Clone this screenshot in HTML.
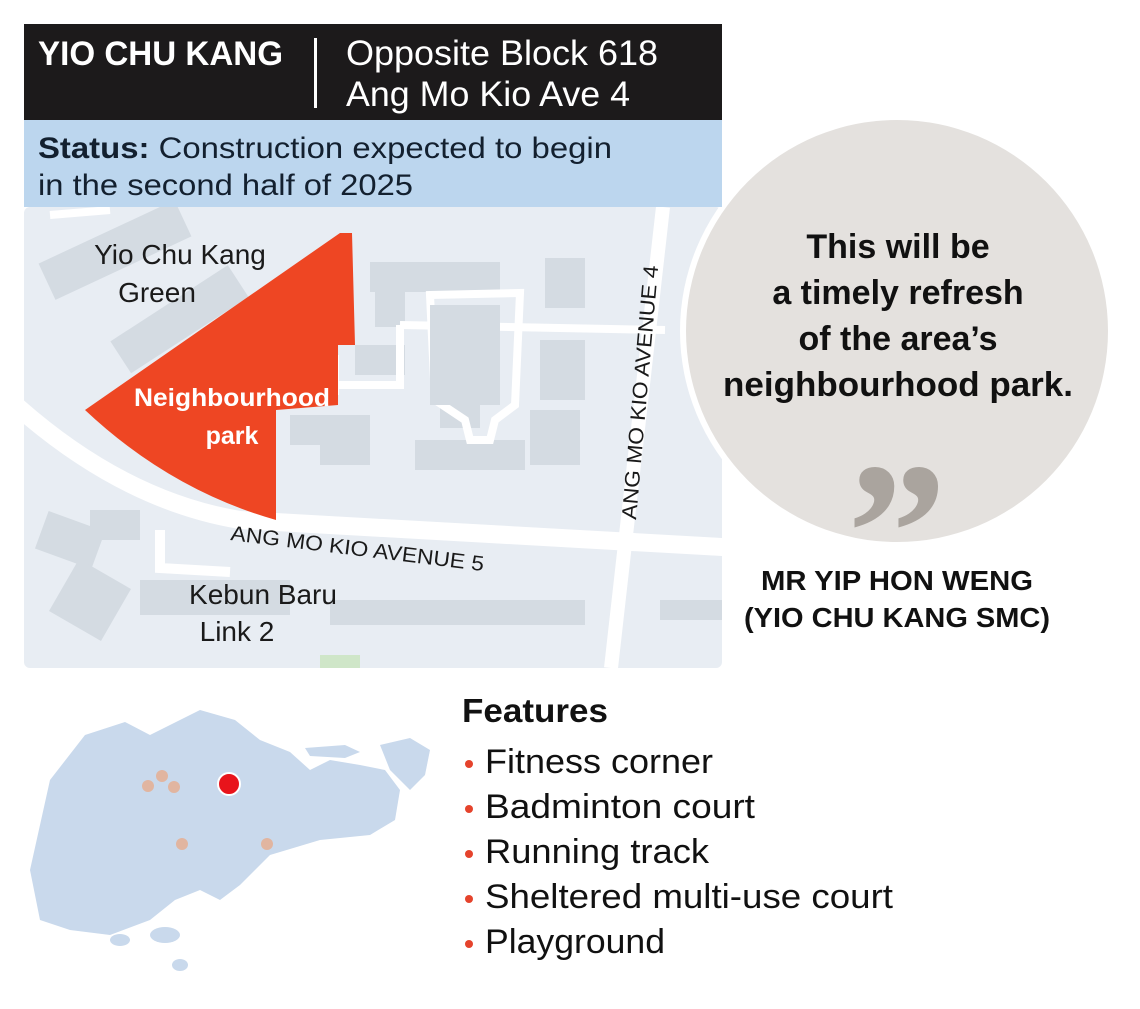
<!DOCTYPE html>
<html><head><meta charset="utf-8"><style>
html,body{margin:0;padding:0;background:#fff;width:1140px;height:1009px;overflow:hidden}
svg text{font-family:"Liberation Sans",sans-serif}
</style></head><body>
<svg width="1140" height="1009" viewBox="0 0 1140 1009" xmlns="http://www.w3.org/2000/svg">
<defs><clipPath id="mc"><rect x="24" y="207" width="698" height="461" rx="6"/></clipPath></defs>
<g clip-path="url(#mc)">
<rect x="24" y="207" width="698" height="461" fill="#e8edf3"/>
<g fill="#d4dbe2">
<rect x="40" y="230" width="150" height="40" transform="rotate(-25 115 250)"/>
<rect x="110" y="300" width="140" height="38" transform="rotate(-33 180 320)"/>
<rect x="370" y="262" width="130" height="30"/>
<rect x="375" y="262" width="30" height="65"/>
<rect x="545" y="258" width="40" height="50"/>
<rect x="440" y="328" width="40" height="100"/>
<rect x="355" y="345" width="50" height="30"/>
<rect x="540" y="340" width="45" height="60"/>
<rect x="290" y="415" width="80" height="30"/>
<rect x="320" y="445" width="50" height="20"/>
<rect x="415" y="440" width="110" height="30"/>
<rect x="530" y="410" width="50" height="55"/>
<rect x="40" y="520" width="60" height="40" transform="rotate(20 70 540)"/>
<rect x="90" y="510" width="50" height="30"/>
<rect x="60" y="570" width="60" height="60" transform="rotate(30 90 600)"/>
<rect x="140" y="580" width="150" height="35"/>
<rect x="330" y="600" width="255" height="25"/>
<rect x="660" y="600" width="62" height="20"/>
</g>
<g fill="none" stroke="#fff" stroke-linecap="butt">
<path d="M10 400 Q120 500 240 520 L740 548" stroke-width="18"/>
<path d="M160 530 L160 568 L230 572" stroke-width="10"/>
<path d="M663 207 L611 668" stroke-width="14"/>
<path d="M400 325 L665 330" stroke-width="8"/>
<path d="M400 325 L400 385 L338 385" stroke-width="8"/>
<path d="M335 355 L335 395" stroke-width="8"/>
<path d="M430 295 L520 293 L515 405 L495 420 L490 440 L470 440 L465 420 L435 400 Z" stroke-width="8"/>
<path d="M50 215 L110 210" stroke-width="8"/>
</g>
<rect x="430" y="305" width="70" height="100" fill="#d4dbe2"/>
<rect x="320" y="655" width="40" height="15" fill="#cfe6c8"/>
<path d="M340 233 L352 233 L355 345 L338 345 L338 405 L276 410 L276 520 Q170 490 85 410 Z" fill="#ee4623"/>
<text x="232" y="406" font-size="25" font-weight="bold" fill="#fff" text-anchor="middle" textLength="196" lengthAdjust="spacingAndGlyphs">Neighbourhood</text>
<text x="232" y="444" font-size="25" font-weight="bold" fill="#fff" text-anchor="middle">park</text>
<text x="180" y="264" font-size="28" fill="#1a1a1a" text-anchor="middle">Yio Chu Kang</text>
<text x="157" y="302" font-size="28" fill="#1a1a1a" text-anchor="middle">Green</text>
<text x="263" y="604" font-size="28" fill="#1a1a1a" text-anchor="middle">Kebun Baru</text>
<text x="237" y="641" font-size="28" fill="#1a1a1a" text-anchor="middle">Link 2</text>
<text x="230" y="540" font-size="21" fill="#1a1a1a" transform="rotate(7 230 540)" textLength="255" lengthAdjust="spacingAndGlyphs">ANG MO KIO AVENUE 5</text>
<text x="636" y="520" font-size="21" fill="#1a1a1a" transform="rotate(-85 636 520)" textLength="255" lengthAdjust="spacingAndGlyphs">ANG MO KIO AVENUE 4</text>
</g>
<!-- quote circle -->
<circle cx="897" cy="331" r="217" fill="#fff"/>
<circle cx="897" cy="331" r="211" fill="#e4e1de"/>
<!-- header -->
<rect x="24" y="24" width="698" height="96" fill="#1c1a1b"/>
<text x="38" y="65" font-size="34" font-weight="bold" fill="#fff" textLength="245" lengthAdjust="spacingAndGlyphs">YIO CHU KANG</text>
<rect x="314" y="38" width="3" height="70" fill="#fff"/>
<text x="346" y="65" font-size="35" fill="#fff" textLength="312" lengthAdjust="spacingAndGlyphs">Opposite Block 618</text>
<text x="346" y="106" font-size="35" fill="#fff" textLength="284" lengthAdjust="spacingAndGlyphs">Ang Mo Kio Ave 4</text>
<rect x="24" y="120" width="698" height="87" fill="#bcd6ee"/>
<text x="38" y="158" font-size="30" fill="#13202f" textLength="574" lengthAdjust="spacingAndGlyphs"><tspan font-weight="bold">Status:</tspan> Construction expected to begin</text>
<text x="38" y="195" font-size="30" fill="#13202f" textLength="375" lengthAdjust="spacingAndGlyphs">in the second half of 2025</text>
<g font-size="34" font-weight="bold" fill="#111" text-anchor="middle">
<text x="898" y="258">This will be</text>
<text x="898" y="304">a timely refresh</text>
<text x="898" y="350">of the area’s</text>
<text x="898" y="396" textLength="350" lengthAdjust="spacingAndGlyphs">neighbourhood park.</text>
</g>
<text x="897" y="600" font-size="200" font-weight="bold" fill="#aaa49e" text-anchor="middle" style="font-family:'Liberation Serif',serif">”</text>
<text x="897" y="590" font-size="28" font-weight="bold" fill="#111" text-anchor="middle" textLength="272" lengthAdjust="spacingAndGlyphs">MR YIP HON WENG</text>
<text x="897" y="627" font-size="28" font-weight="bold" fill="#111" text-anchor="middle" textLength="306" lengthAdjust="spacingAndGlyphs">(YIO CHU KANG SMC)</text>
<!-- singapore map -->
<g fill="#c9d9ec">
<path d="M30 870 L50 780 L85 735 L125 722 L150 735 L200 710 L235 720 L260 740 L290 752 L310 770 L330 760 L360 765 L385 770 L400 790 L395 820 L370 835 L320 840 L270 855 L240 885 L220 900 L200 890 L175 900 L150 920 L110 935 L70 930 L40 920 Z"/>
<path d="M305 748 L345 745 L360 752 L345 758 L310 756 Z"/>
<path d="M380 745 L410 738 L430 750 L425 775 L410 790 L390 770 Z"/>
<ellipse cx="165" cy="935" rx="15" ry="8"/>
<ellipse cx="120" cy="940" rx="10" ry="6"/>
<ellipse cx="180" cy="965" rx="8" ry="6"/>
</g>
<g fill="#e1b5a0">
<circle cx="148" cy="786" r="6"/><circle cx="162" cy="776" r="6"/><circle cx="174" cy="787" r="6"/>
<circle cx="182" cy="844" r="6"/><circle cx="267" cy="844" r="6"/>
</g>
<circle cx="229" cy="784" r="11" fill="#e8141b" stroke="#fff" stroke-width="2"/>
<!-- features -->
<text x="462" y="722" font-size="33" font-weight="bold" fill="#111" textLength="146" lengthAdjust="spacingAndGlyphs">Features</text>
<g font-size="34" fill="#111">
<text x="485" y="773" textLength="228" lengthAdjust="spacingAndGlyphs">Fitness corner</text>
<text x="485" y="818" textLength="270" lengthAdjust="spacingAndGlyphs">Badminton court</text>
<text x="485" y="863" textLength="224" lengthAdjust="spacingAndGlyphs">Running track</text>
<text x="485" y="908" textLength="408" lengthAdjust="spacingAndGlyphs">Sheltered multi-use court</text>
<text x="485" y="953" textLength="180" lengthAdjust="spacingAndGlyphs">Playground</text>
</g>
<g fill="#e5432c">
<circle cx="469" cy="764" r="4"/><circle cx="469" cy="809" r="4"/><circle cx="469" cy="854" r="4"/><circle cx="469" cy="899" r="4"/><circle cx="469" cy="944" r="4"/>
</g>
</svg>
</body></html>
